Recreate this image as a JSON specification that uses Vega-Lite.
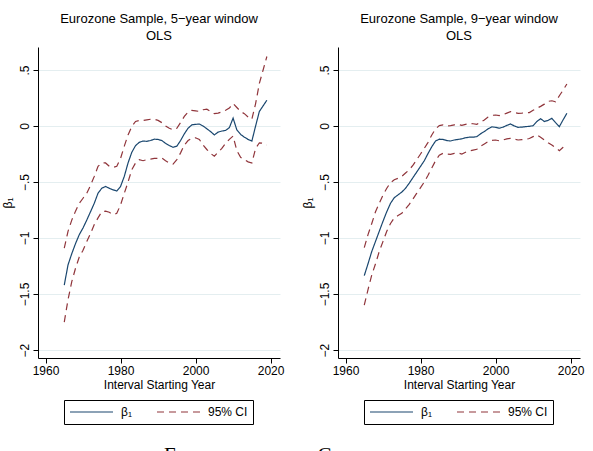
{
  "$schema": "https://vega.github.io/schema/vega-lite/v6.json",
  "background": "white",
  "padding": {"left": 1, "top": 13, "right": 5, "bottom": 0},
  "config": {
    "font": "Liberation Sans",
    "view": {"stroke": null},
    "concat": {"spacing": 17},
    "axis": {
      "domainColor": "#000", "tickColor": "#000", "labelColor": "#000", "titleColor": "#000",
      "labelFont": "Liberation Sans", "titleFont": "Liberation Sans",
      "labelFontSize": 12, "titleFontSize": 12, "titleFontWeight": "normal",
      "tickSize": 5, "domainWidth": 1, "tickWidth": 1
    },
    "title": {
      "font": "Liberation Sans", "fontSize": 13, "fontWeight": "normal", "color": "#000",
      "lineHeight": 17, "frame": "group", "anchor": "middle", "offset": 0
    },
    "legend": {
      "orient": "none", "legendX": 26, "legendY": 353, "direction": "horizontal", "strokeColor": "#000", "padding": 5,
      "symbolType": "stroke", "symbolSize": 1849, "symbolStrokeWidth": 1.2,
      "labelFont": "Liberation Sans", "labelFontSize": 12, "labelColor": "#000",
      "labelOffset": 7, "columnPadding": 24, "clipHeight": 14, "gridAlign": "none"
    }
  },
  "title": {
    "text": "Eurozone vs. non-Core", "orient": "bottom", "anchor": "start", "frame": "bounds",
    "font": "Liberation Serif", "fontSize": 21, "fontWeight": "normal", "color": "#000",
    "dx": 163, "offset": 20
  },
  "datasets": {
    "d": [
      {"w":5,"yr":1965,"b":-1.42,"lo":-1.75,"hi":-1.09},
      {"w":5,"yr":1966,"b":-1.24,"lo":-1.55,"hi":-0.94},
      {"w":5,"yr":1967,"b":-1.14,"lo":-1.39,"hi":-0.84},
      {"w":5,"yr":1968,"b":-1.05,"lo":-1.27,"hi":-0.76},
      {"w":5,"yr":1969,"b":-0.97,"lo":-1.17,"hi":-0.69},
      {"w":5,"yr":1970,"b":-0.91,"lo":-1.11,"hi":-0.645},
      {"w":5,"yr":1971,"b":-0.84,"lo":-1.03,"hi":-0.6},
      {"w":5,"yr":1972,"b":-0.765,"lo":-0.96,"hi":-0.53},
      {"w":5,"yr":1973,"b":-0.69,"lo":-0.88,"hi":-0.45},
      {"w":5,"yr":1974,"b":-0.6,"lo":-0.82,"hi":-0.36},
      {"w":5,"yr":1975,"b":-0.556,"lo":-0.765,"hi":-0.33},
      {"w":5,"yr":1976,"b":-0.54,"lo":-0.76,"hi":-0.33},
      {"w":5,"yr":1977,"b":-0.556,"lo":-0.77,"hi":-0.36},
      {"w":5,"yr":1978,"b":-0.57,"lo":-0.79,"hi":-0.37},
      {"w":5,"yr":1979,"b":-0.58,"lo":-0.78,"hi":-0.36},
      {"w":5,"yr":1980,"b":-0.54,"lo":-0.705,"hi":-0.29},
      {"w":5,"yr":1981,"b":-0.45,"lo":-0.6,"hi":-0.18},
      {"w":5,"yr":1982,"b":-0.33,"lo":-0.5,"hi":-0.08},
      {"w":5,"yr":1983,"b":-0.235,"lo":-0.39,"hi":-0.005},
      {"w":5,"yr":1984,"b":-0.175,"lo":-0.33,"hi":0.04},
      {"w":5,"yr":1985,"b":-0.146,"lo":-0.3,"hi":0.05},
      {"w":5,"yr":1986,"b":-0.134,"lo":-0.31,"hi":0.05},
      {"w":5,"yr":1987,"b":-0.137,"lo":-0.3,"hi":0.055},
      {"w":5,"yr":1988,"b":-0.13,"lo":-0.295,"hi":0.06},
      {"w":5,"yr":1989,"b":-0.118,"lo":-0.29,"hi":0.06},
      {"w":5,"yr":1990,"b":-0.12,"lo":-0.29,"hi":0.05},
      {"w":5,"yr":1991,"b":-0.13,"lo":-0.285,"hi":0.03},
      {"w":5,"yr":1992,"b":-0.155,"lo":-0.31,"hi":0.0},
      {"w":5,"yr":1993,"b":-0.175,"lo":-0.33,"hi":-0.02},
      {"w":5,"yr":1994,"b":-0.19,"lo":-0.34,"hi":-0.035},
      {"w":5,"yr":1995,"b":-0.18,"lo":-0.3,"hi":-0.02},
      {"w":5,"yr":1996,"b":-0.13,"lo":-0.24,"hi":0.03},
      {"w":5,"yr":1997,"b":-0.07,"lo":-0.17,"hi":0.085},
      {"w":5,"yr":1998,"b":-0.02,"lo":-0.13,"hi":0.125},
      {"w":5,"yr":1999,"b":0.01,"lo":-0.11,"hi":0.14},
      {"w":5,"yr":2000,"b":0.015,"lo":-0.105,"hi":0.135},
      {"w":5,"yr":2001,"b":0.017,"lo":-0.12,"hi":0.13},
      {"w":5,"yr":2002,"b":0.0,"lo":-0.17,"hi":0.145},
      {"w":5,"yr":2003,"b":-0.025,"lo":-0.21,"hi":0.15},
      {"w":5,"yr":2004,"b":-0.05,"lo":-0.245,"hi":0.13},
      {"w":5,"yr":2005,"b":-0.08,"lo":-0.27,"hi":0.11},
      {"w":5,"yr":2006,"b":-0.055,"lo":-0.235,"hi":0.115},
      {"w":5,"yr":2007,"b":-0.045,"lo":-0.2,"hi":0.125},
      {"w":5,"yr":2008,"b":-0.04,"lo":-0.155,"hi":0.14},
      {"w":5,"yr":2009,"b":-0.015,"lo":-0.12,"hi":0.16},
      {"w":5,"yr":2010,"b":0.07,"lo":-0.09,"hi":0.2},
      {"w":5,"yr":2011,"b":-0.035,"lo":-0.22,"hi":0.165},
      {"w":5,"yr":2012,"b":-0.075,"lo":-0.28,"hi":0.13},
      {"w":5,"yr":2013,"b":-0.1,"lo":-0.3,"hi":0.11},
      {"w":5,"yr":2014,"b":-0.12,"lo":-0.32,"hi":0.08},
      {"w":5,"yr":2015,"b":-0.135,"lo":-0.33,"hi":0.06},
      {"w":5,"yr":2016,"b":0.0,"lo":-0.2,"hi":0.2},
      {"w":5,"yr":2017,"b":0.13,"lo":-0.15,"hi":0.38},
      {"w":5,"yr":2018,"b":0.18,"lo":-0.155,"hi":0.5},
      {"w":5,"yr":2019,"b":0.23,"lo":-0.17,"hi":0.62},
      {"w":9,"yr":1965,"b":-1.336,"lo":-1.6,"hi":-1.086},
      {"w":9,"yr":1966,"b":-1.23,"lo":-1.46,"hi":-0.97},
      {"w":9,"yr":1967,"b":-1.12,"lo":-1.33,"hi":-0.87},
      {"w":9,"yr":1968,"b":-1.03,"lo":-1.23,"hi":-0.765},
      {"w":9,"yr":1969,"b":-0.94,"lo":-1.12,"hi":-0.69},
      {"w":9,"yr":1970,"b":-0.85,"lo":-1.03,"hi":-0.616},
      {"w":9,"yr":1971,"b":-0.765,"lo":-0.94,"hi":-0.556},
      {"w":9,"yr":1972,"b":-0.69,"lo":-0.87,"hi":-0.506},
      {"w":9,"yr":1973,"b":-0.64,"lo":-0.82,"hi":-0.48},
      {"w":9,"yr":1974,"b":-0.615,"lo":-0.8,"hi":-0.467},
      {"w":9,"yr":1975,"b":-0.59,"lo":-0.78,"hi":-0.45},
      {"w":9,"yr":1976,"b":-0.556,"lo":-0.74,"hi":-0.42},
      {"w":9,"yr":1977,"b":-0.51,"lo":-0.7,"hi":-0.39},
      {"w":9,"yr":1978,"b":-0.46,"lo":-0.65,"hi":-0.35},
      {"w":9,"yr":1979,"b":-0.41,"lo":-0.6,"hi":-0.3},
      {"w":9,"yr":1980,"b":-0.36,"lo":-0.55,"hi":-0.25},
      {"w":9,"yr":1981,"b":-0.31,"lo":-0.5,"hi":-0.2},
      {"w":9,"yr":1982,"b":-0.245,"lo":-0.44,"hi":-0.146},
      {"w":9,"yr":1983,"b":-0.185,"lo":-0.375,"hi":-0.08},
      {"w":9,"yr":1984,"b":-0.134,"lo":-0.31,"hi":-0.027},
      {"w":9,"yr":1985,"b":-0.118,"lo":-0.26,"hi":0.003},
      {"w":9,"yr":1986,"b":-0.12,"lo":-0.244,"hi":0.009},
      {"w":9,"yr":1987,"b":-0.13,"lo":-0.25,"hi":0.0},
      {"w":9,"yr":1988,"b":-0.134,"lo":-0.253,"hi":0.003},
      {"w":9,"yr":1989,"b":-0.125,"lo":-0.244,"hi":0.01},
      {"w":9,"yr":1990,"b":-0.12,"lo":-0.24,"hi":0.015},
      {"w":9,"yr":1991,"b":-0.115,"lo":-0.25,"hi":0.005},
      {"w":9,"yr":1992,"b":-0.105,"lo":-0.235,"hi":0.015},
      {"w":9,"yr":1993,"b":-0.1,"lo":-0.222,"hi":0.022},
      {"w":9,"yr":1994,"b":-0.1,"lo":-0.215,"hi":0.02},
      {"w":9,"yr":1995,"b":-0.095,"lo":-0.208,"hi":0.015},
      {"w":9,"yr":1996,"b":-0.07,"lo":-0.18,"hi":0.035},
      {"w":9,"yr":1997,"b":-0.05,"lo":-0.16,"hi":0.054},
      {"w":9,"yr":1998,"b":-0.025,"lo":-0.14,"hi":0.08},
      {"w":9,"yr":1999,"b":-0.008,"lo":-0.128,"hi":0.095},
      {"w":9,"yr":2000,"b":-0.012,"lo":-0.125,"hi":0.098},
      {"w":9,"yr":2001,"b":-0.02,"lo":-0.133,"hi":0.093},
      {"w":9,"yr":2002,"b":-0.01,"lo":-0.125,"hi":0.1},
      {"w":9,"yr":2003,"b":0.005,"lo":-0.115,"hi":0.115},
      {"w":9,"yr":2004,"b":0.018,"lo":-0.11,"hi":0.128},
      {"w":9,"yr":2005,"b":0.0,"lo":-0.118,"hi":0.12},
      {"w":9,"yr":2006,"b":-0.012,"lo":-0.125,"hi":0.113},
      {"w":9,"yr":2007,"b":-0.01,"lo":-0.122,"hi":0.115},
      {"w":9,"yr":2008,"b":-0.006,"lo":-0.12,"hi":0.118},
      {"w":9,"yr":2009,"b":-0.003,"lo":-0.112,"hi":0.12},
      {"w":9,"yr":2010,"b":0.003,"lo":-0.095,"hi":0.14},
      {"w":9,"yr":2011,"b":0.04,"lo":-0.08,"hi":0.158},
      {"w":9,"yr":2012,"b":0.065,"lo":-0.1,"hi":0.175},
      {"w":9,"yr":2013,"b":0.04,"lo":-0.125,"hi":0.195},
      {"w":9,"yr":2014,"b":0.05,"lo":-0.15,"hi":0.22},
      {"w":9,"yr":2015,"b":0.068,"lo":-0.17,"hi":0.225},
      {"w":9,"yr":2016,"b":0.03,"lo":-0.195,"hi":0.215},
      {"w":9,"yr":2017,"b":-0.006,"lo":-0.22,"hi":0.27},
      {"w":9,"yr":2018,"b":0.055,"lo":-0.19,"hi":0.32},
      {"w":9,"yr":2019,"b":0.113,"lo":-0.16,"hi":0.375}
    ]
  },
  "resolve": {"scale": {"color": "independent", "strokeDash": "independent"}},
  "hconcat": [
    {
      "width": 242, "height": 311,
      "title": {"text": ["Eurozone Sample, 5−year window", "OLS"]},
      "data": {"name": "d"},
      "transform": [{"filter": "datum.w == 5"}],
      "encoding": {
        "x": {"field": "yr", "type": "quantitative", "title": "Interval Starting Year",
          "scale": {"domain": [1958, 2022.5], "nice": false, "zero": false},
          "axis": {"values": [1960, 1980, 2000, 2020], "format": "d", "grid": false, "labelPadding": 2, "titlePadding": 3}}
      },
      "layer": [
        {"mark": {"type": "line", "strokeWidth": 1.2},
         "encoding": {
           "y": {"field": "b", "type": "quantitative", "title": "β₁",
             "scale": {"domain": [-2.071, 0.705], "nice": false, "zero": false},
             "axis": {"values": [-2, -1.5, -1, -0.5, 0, 0.5], "labelAngle": -90, "labelAlign": "center", "labelBaseline": "bottom", "labelPadding": 2,
               "labelExpr": "replace(format(datum.value, '~g'), '0.', '.')",
               "grid": true, "gridColor": "#e4eef0", "titlePadding": 4}},
           "color": {"datum": "β₁", "scale": {"domain": ["β₁", "95% CI"], "range": ["#1a476f", "#90353b"]}, "legend": {"title": null}},
           "strokeDash": {"datum": "β₁", "scale": {"domain": ["β₁", "95% CI"], "range": [[1, 0], [7, 5]]}, "legend": {"title": null}}
         }},
        {"mark": {"type": "line", "strokeWidth": 1.2},
         "encoding": {
           "y": {"field": "lo", "type": "quantitative", "title": "β₁"},
           "color": {"datum": "95% CI"},
           "strokeDash": {"datum": "95% CI"}
         }},
        {"mark": {"type": "line", "strokeWidth": 1.2},
         "encoding": {
           "y": {"field": "hi", "type": "quantitative", "title": "β₁"},
           "color": {"datum": "95% CI"},
           "strokeDash": {"datum": "95% CI"}
         }}
      ]
    },
    {
      "width": 242, "height": 311,
      "title": {"text": ["Eurozone Sample, 9−year window", "OLS"]},
      "data": {"name": "d"},
      "transform": [{"filter": "datum.w == 9"}],
      "encoding": {
        "x": {"field": "yr", "type": "quantitative", "title": "Interval Starting Year",
          "scale": {"domain": [1958, 2022.5], "nice": false, "zero": false},
          "axis": {"values": [1960, 1980, 2000, 2020], "format": "d", "grid": false, "labelPadding": 2, "titlePadding": 3}}
      },
      "layer": [
        {"mark": {"type": "line", "strokeWidth": 1.2},
         "encoding": {
           "y": {"field": "b", "type": "quantitative", "title": "β₁",
             "scale": {"domain": [-2.071, 0.705], "nice": false, "zero": false},
             "axis": {"values": [-2, -1.5, -1, -0.5, 0, 0.5], "labelAngle": -90, "labelAlign": "center", "labelBaseline": "bottom", "labelPadding": 2,
               "labelExpr": "replace(format(datum.value, '~g'), '0.', '.')",
               "grid": true, "gridColor": "#e4eef0", "titlePadding": 4}},
           "color": {"datum": "β₁", "scale": {"domain": ["β₁", "95% CI"], "range": ["#1a476f", "#90353b"]}, "legend": {"title": null}},
           "strokeDash": {"datum": "β₁", "scale": {"domain": ["β₁", "95% CI"], "range": [[1, 0], [7, 5]]}, "legend": {"title": null}}
         }},
        {"mark": {"type": "line", "strokeWidth": 1.2},
         "encoding": {
           "y": {"field": "lo", "type": "quantitative", "title": "β₁"},
           "color": {"datum": "95% CI"},
           "strokeDash": {"datum": "95% CI"}
         }},
        {"mark": {"type": "line", "strokeWidth": 1.2},
         "encoding": {
           "y": {"field": "hi", "type": "quantitative", "title": "β₁"},
           "color": {"datum": "95% CI"},
           "strokeDash": {"datum": "95% CI"}
         }}
      ]
    }
  ]
}
